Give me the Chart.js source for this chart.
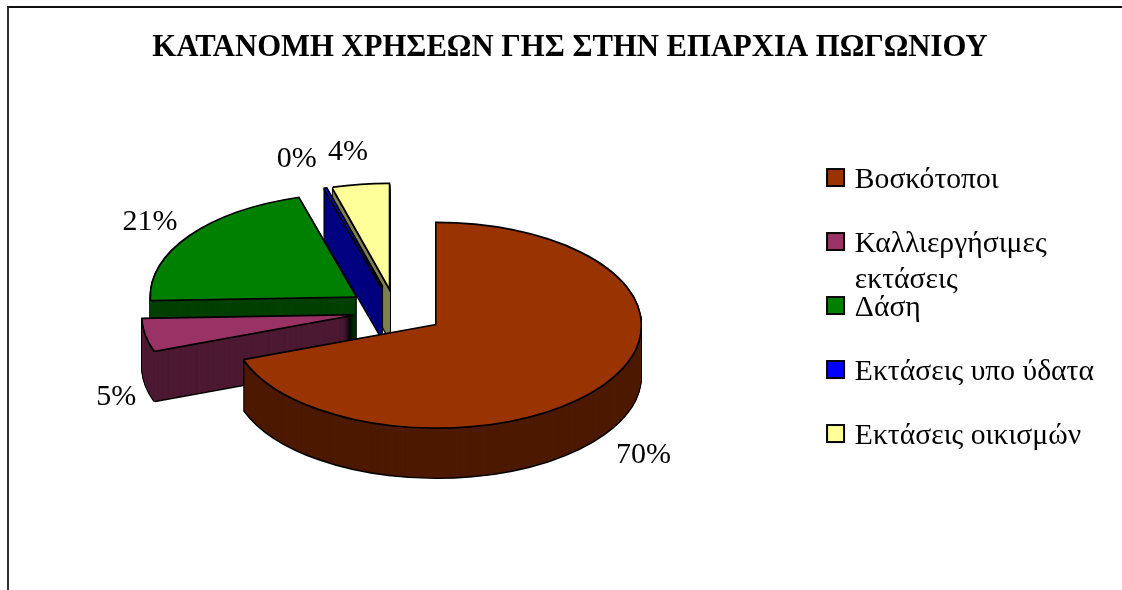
<!DOCTYPE html>
<html lang="el">
<head>
    <meta charset="UTF-8">
    <title>Κατανομή χρήσεων γης</title>
    <script src="https://cdn.jsdelivr.net/npm/chart.js"></script>
    <style>
        body { margin: 0; background: #fff; overflow: hidden; }
        #wrap { position: relative; width: 1122px; height: 590px; }
        /* the picture only has a top and a left frame line */
        #frame { position: absolute; left: 7px; top: 6px; right: 0; bottom: 0;
                 border-left: 2px solid #333; border-top: 2px solid #111; }
    </style>
</head>
<body>
    <div id="wrap">
        <div id="frame"></div>
        <canvas id="pie"></canvas>
    </div>

    <script>
        const titleText = 'ΚΑΤΑΝΟΜΗ ΧΡΗΣΕΩΝ ΓΗΣ ΣΤΗΝ ΕΠΑΡΧΙΑ ΠΩΓΩΝΙΟΥ';
        const legendLines = [
            ['Βοσκότοποι'],
            ['Καλλιεργήσιμες', 'εκτάσεις'],
            ['Δάση'],
            ['Εκτάσεις υπο ύδατα'],
            ['Εκτάσεις οικισμών'],
        ];
        const shares = [69.6, 5, 21.1, 0.1, 4.4];
        const sliceColors = ['#993300', '#993366', '#008000', '#0000FF', '#FFFF99'];
        const wallColors = ['#4D1A00', '#4D1A33', '#004000', '#000080', '#808050'];

        // nudges of the percent labels, in px
        const labelNudges = [[17, 13], [1, 9], [-14, -6], [-19, -15], [-7, -18]];

        const serif = '"Liberation Serif", serif';
        const pieCenterX = 395.6;
        const pieCenterY = 311;
        const pieTilt = 0.5;
        const pieDepth = 50;
        const pieRadius = 204;
        const explode = 50;
        const legendBox = 17;

        // arc offset in Chart.js also narrows and grows the slices, so the explode is done here
        function paintArc(ctx, arc, shift, style) {
            const base = arc.options;
            const mid = (arc.startAngle + arc.endAngle) / 2;
            arc.options = { ...base, ...style };
            ctx.save();
            ctx.translate(pieCenterX, pieCenterY + shift);
            ctx.scale(1, pieTilt);
            ctx.translate(Math.cos(mid) * explode - arc.x, Math.sin(mid) * explode - arc.y);
            arc.draw(ctx);
            ctx.restore();
            arc.options = base;
        }

        // tilts the pie and extrudes it, back slices first
        const tiltedPie = {
            id: 'tiltedPie',
            beforeDatasetsDraw(chart) {
                const ctx = chart.ctx;
                const arcs = chart.getDatasetMeta(0).data;
                const outline = { backgroundColor: '#000', borderColor: '#000', borderWidth: 3 };
                for (let i = arcs.length - 1; i >= 0; i--) {
                    for (let d = pieDepth + 1; d >= 0; d--) {
                        paintArc(ctx, arcs[i], d, outline);
                    }
                    for (let d = pieDepth; d >= 1; d--) {
                        paintArc(ctx, arcs[i], d, { backgroundColor: wallColors[i], borderColor: wallColors[i], borderWidth: 1.2 });
                    }
                    // y scale thins the stroke, so the top outline is painted at three heights
                    paintArc(ctx, arcs[i], 1, outline);
                    paintArc(ctx, arcs[i], 0, outline);
                    paintArc(ctx, arcs[i], -1, outline);
                    paintArc(ctx, arcs[i], 0, { backgroundColor: sliceColors[i], borderWidth: 0 });
                }
                return false;
            },
            afterDraw(chart) {
                const ctx = chart.ctx;
                const arcs = chart.getDatasetMeta(0).data;
                const boxes = chart.legend.legendHitBoxes;
                const labels = chart.options.plugins.legend.labels;
                ctx.save();
                ctx.fillStyle = '#000';
                ctx.font = '30px ' + serif;
                ctx.textAlign = 'center';
                ctx.textBaseline = 'middle';
                arcs.forEach((arc, i) => {
                    const mid = (arc.startAngle + arc.endAngle) / 2;
                    const reach = pieRadius + explode + 30;
                    const x = pieCenterX - 1.6 + Math.cos(mid) * reach;
                    const y = pieCenterY + Math.sin(mid) * reach * pieTilt + (Math.sin(mid) > 0 ? pieDepth : 0);
                    ctx.fillText(Math.round(shares[i]) + '%', x + labelNudges[i][0], y + labelNudges[i][1]);
                });

                // legend gap is tied to box width, so the wider boxes and wrapped words go on top
                ctx.font = labels.font.size + 'px ' + serif;
                ctx.textAlign = 'left';
                ctx.lineWidth = 2;
                ctx.strokeStyle = '#000';
                legendLines.forEach((lines, i) => {
                    const middle = boxes[i].top + boxes[i].height / 2;
                    ctx.fillStyle = sliceColors[i];
                    ctx.fillRect(boxes[i].left, middle - legendBox / 2 - 3, legendBox, legendBox);
                    ctx.strokeRect(boxes[i].left, middle - legendBox / 2 - 3, legendBox, legendBox);
                    if (lines.length > 1) {
                        ctx.fillStyle = '#000';
                        ctx.fillText(lines[1], boxes[i].left + labels.boxWidth + labels.font.size / 2, middle + 36);
                    }
                });
                ctx.restore();
            },
        };

        new Chart(document.getElementById('pie'), {
            type: 'pie',
            data: {
                labels: legendLines.map((l) => l.join(' ')),
                datasets: [{
                    data: shares,
                    backgroundColor: sliceColors,
                    borderColor: '#000',
                    borderWidth: 3,
                    borderJoinStyle: 'miter',
                }],
            },
            plugins: [tiltedPie],
            options: {
                responsive: true,
                maintainAspectRatio: false,
                animation: false,
                radius: pieRadius,
                layout: { padding: { left: 36, right: 18 } },
                plugins: {
                    tooltip: { enabled: false },
                    title: {
                        display: true,
                        text: titleText,
                        color: '#000',
                        font: { family: serif, size: 30.7, weight: 'bold' },
                        padding: { top: 30, bottom: 64.5 },
                    },
                    legend: {
                        position: 'right',
                        align: 'start',
                        fullSize: false,
                        labels: {
                            color: '#000',
                            boxWidth: 13,
                            boxHeight: 9,
                            padding: 34.4,
                            font: { family: serif, size: 29.6 },
                            generateLabels: () => legendLines.map((lines, i) => ({
                                text: lines[0],
                                fillStyle: sliceColors[i],
                                strokeStyle: '#000',
                                lineWidth: 1,
                                hidden: false,
                                index: i,
                            })),
                        },
                    },
                },
            },
        });
    </script>
</body>
</html>
